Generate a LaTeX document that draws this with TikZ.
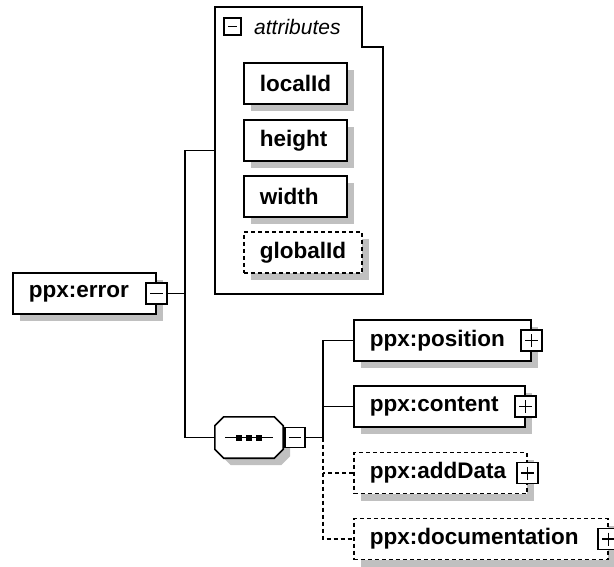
\documentclass[tikz,border=0pt]{standalone}
\usepackage{fontspec}
\newfontfamily\xsdfont{Liberation Sans}
\usepackage{xcolor}
\usetikzlibrary{positioning,shadows}
\definecolor{shadowgray}{RGB}{192,192,192}

\tikzset{
  elem/.style={draw, fill=white, line width=1.6pt, anchor=west, minimum height=41pt,
    inner xsep=16pt, inner ysep=0pt, align=left,
    font=\xsdfont\bfseries\fontsize{22.5}{24}\selectfont,
    general shadow={fill=shadowgray, shadow xshift=7pt, shadow yshift=-7pt}},
  optelem/.style={elem, dash pattern=on 4pt off 3pt},
  toggle/.style={draw, fill=white, line width=1.4pt, minimum size=21pt, inner sep=0pt},
  collapse/.style={toggle, path picture={
    \draw[line width=1.4pt] ([xshift=4pt]path picture bounding box.west) -- ([xshift=-4pt]path picture bounding box.east);}},
  expand/.style={toggle, path picture={
    \draw[line width=1.4pt] ([xshift=4pt]path picture bounding box.west) -- ([xshift=-4pt]path picture bounding box.east)
      ([yshift=-4pt]path picture bounding box.north) -- ([yshift=4pt]path picture bounding box.south);}},
  link/.style={line width=1.4pt},
  optlink/.style={link, dash pattern=on 4pt off 3pt}
}

\begin{document}
\begin{tikzpicture}[x=1pt, y=-1pt]
  \useasboundingbox[fill=white] (0,0) rectangle (614,567);

  % root element
  \node[elem, text width=111pt] (err) at (12,293.5) {ppx:error};
  \node[collapse] (errtog) at (err.east) {};

  % attribute group
  \draw[line width=1.6pt] (215,7) -- (362,7) -- (362,47) -- (383,47) -- (383,294) -- (215,294) -- cycle;
  \node[minimum width=168pt, minimum height=287pt, anchor=north west, inner sep=0pt] (attrs) at (215,7) {};
  \node[collapse, minimum size=17pt] (attrtog) at (232.5,26.5) {};
  \node[anchor=west, inner sep=0pt, font=\xsdfont\itshape\fontsize{21}{21}\selectfont] (attrlbl) at (254,27) {attributes};
  \node[elem, text width=71pt] (localid) at (243,83.5) {localId};
  \node[elem, text width=71pt] (height) at (243,140.5) {height};
  \node[elem, text width=71pt] (width) at (243,196.5) {width};
  \node[optelem, text width=86pt] (globalid) at (243,252.5) {globalId};

  % sequence
  \node[minimum width=68pt, minimum height=41pt, inner sep=0pt] (seq) at (249,437.5) {};
  \draw[line width=1.6pt, fill=white, preaction={fill=shadowgray, transform canvas={shift={(7pt,-7pt)}}}]
    ([xshift=9pt]seq.north west) -- ([xshift=-9pt]seq.north east) -- ([yshift=-9pt]seq.north east)
    -- ([yshift=9pt]seq.south east) -- ([xshift=-9pt]seq.south east) -- ([xshift=9pt]seq.south west)
    -- ([yshift=9pt]seq.south west) -- ([yshift=-9pt]seq.north west) -- cycle;
  \draw[link] ([xshift=-24pt]seq.center) -- ([xshift=24pt]seq.center);
  \foreach \dx in {-10,0,10}
    \fill ([xshift=\dx pt]seq.center) +(-3,-3) rectangle +(3,3);
  \node[collapse, minimum size=20pt, right=1pt of seq] (seqtog) {};

  % children
  \node[elem, text width=145pt] (pos) at (353,340.5) {ppx:position};
  \node[elem, text width=139pt] (cont) at (353,406.5) {ppx:content};
  \node[optelem, text width=141pt] (add) at (353,473) {ppx:addData};
  \node[optelem, text width=222pt] (doc) at (353,539) {ppx:documentation};

  % connectors
  \coordinate (fork) at (185,293.5);
  \draw[link] (errtog.east) -- (fork);
  \draw[link] (attrs.west) -| (fork) |- (seq.west);
  \coordinate (seqfork) at (323,437.5);
  \draw[link] (seqtog.east) -- (seqfork);
  \draw[link] (pos.west) -| (seqfork);
  \draw[link] (cont.west) -- (cont.west -| seqfork);
  \draw[optlink] (seqfork) |- (doc.west);
  \draw[optlink] (add.west) -- (add.west -| seqfork);

  \node[expand] (postog) at (pos.east) {};
  \node[expand] (conttog) at (cont.east) {};
  \node[expand] (addtog) at (add.east) {};
  \node[expand] (doctog) at (doc.east) {};
\end{tikzpicture}
\end{document}
